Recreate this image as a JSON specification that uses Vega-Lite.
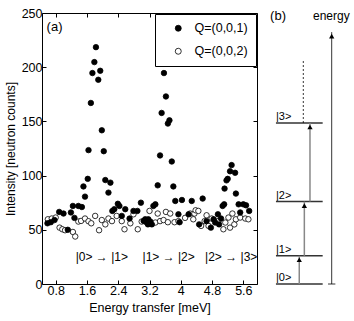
{
  "$schema": "https://vega.github.io/schema/vega-lite/v6.json",
  "padding": {"left": 3, "top": 6, "right": 0, "bottom": 0},
  "background": "white",
  "config": {
    "font": "Liberation Sans",
    "view": {"stroke": null},
    "axis": {"labelColor": "black", "titleColor": "black", "tickColor": "black", "domainColor": "black", "labelFont": "Liberation Sans", "titleFont": "Liberation Sans", "titleFontWeight": "normal", "grid": false}
  },
  "resolve": {"scale": {"fill": "independent"}, "legend": {"fill": "independent"}},
  "datasets": {
    "pts": [
      {"E": 0.60, "I": 59.7, "Q": "Q=(0,0,2)"},
      {"E": 0.70, "I": 60.4, "Q": "Q=(0,0,2)"},
      {"E": 0.80, "I": 61.3, "Q": "Q=(0,0,2)"},
      {"E": 0.90, "I": 52, "Q": "Q=(0,0,2)"},
      {"E": 0.97, "I": 50.5, "Q": "Q=(0,0,2)"},
      {"E": 1.04, "I": 49.6, "Q": "Q=(0,0,2)"},
      {"E": 1.24, "I": 48, "Q": "Q=(0,0,2)"},
      {"E": 1.30, "I": 43.8, "Q": "Q=(0,0,2)"},
      {"E": 1.38, "I": 57.6, "Q": "Q=(0,0,2)"},
      {"E": 1.45, "I": 58.2, "Q": "Q=(0,0,2)"},
      {"E": 1.55, "I": 60.4, "Q": "Q=(0,0,2)"},
      {"E": 1.64, "I": 57.9, "Q": "Q=(0,0,2)"},
      {"E": 1.71, "I": 56, "Q": "Q=(0,0,2)"},
      {"E": 1.81, "I": 62.8, "Q": "Q=(0,0,2)"},
      {"E": 1.91, "I": 49.6, "Q": "Q=(0,0,2)"},
      {"E": 1.98, "I": 59, "Q": "Q=(0,0,2)"},
      {"E": 2.07, "I": 55, "Q": "Q=(0,0,2)"},
      {"E": 2.15, "I": 60.4, "Q": "Q=(0,0,2)"},
      {"E": 2.24, "I": 58, "Q": "Q=(0,0,2)"},
      {"E": 2.36, "I": 62.8, "Q": "Q=(0,0,2)"},
      {"E": 2.49, "I": 58, "Q": "Q=(0,0,2)"},
      {"E": 2.56, "I": 50.5, "Q": "Q=(0,0,2)"},
      {"E": 2.71, "I": 56, "Q": "Q=(0,0,2)"},
      {"E": 2.79, "I": 64.3, "Q": "Q=(0,0,2)"},
      {"E": 2.90, "I": 50.5, "Q": "Q=(0,0,2)"},
      {"E": 3.00, "I": 57.6, "Q": "Q=(0,0,2)"},
      {"E": 3.20, "I": 67.4, "Q": "Q=(0,0,2)"},
      {"E": 3.35, "I": 56.7, "Q": "Q=(0,0,2)"},
      {"E": 3.41, "I": 65, "Q": "Q=(0,0,2)"},
      {"E": 3.47, "I": 58, "Q": "Q=(0,0,2)"},
      {"E": 3.56, "I": 59, "Q": "Q=(0,0,2)"},
      {"E": 3.62, "I": 66.5, "Q": "Q=(0,0,2)"},
      {"E": 3.67, "I": 57, "Q": "Q=(0,0,2)"},
      {"E": 3.73, "I": 65, "Q": "Q=(0,0,2)"},
      {"E": 3.84, "I": 57, "Q": "Q=(0,0,2)"},
      {"E": 3.94, "I": 58, "Q": "Q=(0,0,2)"},
      {"E": 4.11, "I": 61, "Q": "Q=(0,0,2)"},
      {"E": 4.24, "I": 65, "Q": "Q=(0,0,2)"},
      {"E": 4.32, "I": 59.7, "Q": "Q=(0,0,2)"},
      {"E": 4.35, "I": 65, "Q": "Q=(0,0,2)"},
      {"E": 4.38, "I": 68, "Q": "Q=(0,0,2)"},
      {"E": 4.45, "I": 67.4, "Q": "Q=(0,0,2)"},
      {"E": 4.52, "I": 53.6, "Q": "Q=(0,0,2)"},
      {"E": 4.61, "I": 58, "Q": "Q=(0,0,2)"},
      {"E": 4.66, "I": 63.4, "Q": "Q=(0,0,2)"},
      {"E": 4.71, "I": 53.6, "Q": "Q=(0,0,2)"},
      {"E": 4.79, "I": 60.4, "Q": "Q=(0,0,2)"},
      {"E": 4.96, "I": 58, "Q": "Q=(0,0,2)"},
      {"E": 5.09, "I": 50.5, "Q": "Q=(0,0,2)"},
      {"E": 5.14, "I": 56.7, "Q": "Q=(0,0,2)"},
      {"E": 5.22, "I": 61.3, "Q": "Q=(0,0,2)"},
      {"E": 5.26, "I": 52, "Q": "Q=(0,0,2)"},
      {"E": 5.32, "I": 65, "Q": "Q=(0,0,2)"},
      {"E": 5.37, "I": 55, "Q": "Q=(0,0,2)"},
      {"E": 5.41, "I": 59.7, "Q": "Q=(0,0,2)"},
      {"E": 5.52, "I": 61.3, "Q": "Q=(0,0,2)"},
      {"E": 5.65, "I": 60.4, "Q": "Q=(0,0,2)"},
      {"E": 5.73, "I": 59.7, "Q": "Q=(0,0,2)"},
      {"E": 0.59, "I": 56, "Q": "Q=(0,0,1)"},
      {"E": 0.675, "I": 57, "Q": "Q=(0,0,1)"},
      {"E": 0.77, "I": 59, "Q": "Q=(0,0,1)"},
      {"E": 0.89, "I": 66.5, "Q": "Q=(0,0,1)"},
      {"E": 1.0, "I": 65, "Q": "Q=(0,0,1)"},
      {"E": 1.11, "I": 50, "Q": "Q=(0,0,1)"},
      {"E": 1.19, "I": 66, "Q": "Q=(0,0,1)"},
      {"E": 1.24, "I": 72, "Q": "Q=(0,0,1)"},
      {"E": 1.28, "I": 61, "Q": "Q=(0,0,1)"},
      {"E": 1.38, "I": 72, "Q": "Q=(0,0,1)"},
      {"E": 1.47, "I": 71, "Q": "Q=(0,0,1)"},
      {"E": 1.51, "I": 90, "Q": "Q=(0,0,1)"},
      {"E": 1.55, "I": 80.6, "Q": "Q=(0,0,1)"},
      {"E": 1.62, "I": 97, "Q": "Q=(0,0,1)"},
      {"E": 1.64, "I": 123.5, "Q": "Q=(0,0,1)"},
      {"E": 1.70, "I": 167, "Q": "Q=(0,0,1)"},
      {"E": 1.74, "I": 194.6, "Q": "Q=(0,0,1)"},
      {"E": 1.79, "I": 204.7, "Q": "Q=(0,0,1)"},
      {"E": 1.83, "I": 218.5, "Q": "Q=(0,0,1)"},
      {"E": 1.89, "I": 188.4, "Q": "Q=(0,0,1)"},
      {"E": 1.94, "I": 196.7, "Q": "Q=(0,0,1)"},
      {"E": 1.98, "I": 141.8, "Q": "Q=(0,0,1)"},
      {"E": 2.03, "I": 122.5, "Q": "Q=(0,0,1)"},
      {"E": 2.07, "I": 95.9, "Q": "Q=(0,0,1)"},
      {"E": 2.15, "I": 84.3, "Q": "Q=(0,0,1)"},
      {"E": 2.20, "I": 93.5, "Q": "Q=(0,0,1)"},
      {"E": 2.25, "I": 67.4, "Q": "Q=(0,0,1)"},
      {"E": 2.30, "I": 69, "Q": "Q=(0,0,1)"},
      {"E": 2.39, "I": 74, "Q": "Q=(0,0,1)"},
      {"E": 2.43, "I": 72, "Q": "Q=(0,0,1)"},
      {"E": 2.49, "I": 62.8, "Q": "Q=(0,0,1)"},
      {"E": 2.58, "I": 69, "Q": "Q=(0,0,1)"},
      {"E": 2.69, "I": 60.4, "Q": "Q=(0,0,1)"},
      {"E": 2.79, "I": 67.4, "Q": "Q=(0,0,1)"},
      {"E": 2.89, "I": 67.4, "Q": "Q=(0,0,1)"},
      {"E": 2.98, "I": 75, "Q": "Q=(0,0,1)"},
      {"E": 3.05, "I": 58.2, "Q": "Q=(0,0,1)"},
      {"E": 3.09, "I": 59.7, "Q": "Q=(0,0,1)"},
      {"E": 3.13, "I": 56.7, "Q": "Q=(0,0,1)"},
      {"E": 3.16, "I": 55, "Q": "Q=(0,0,1)"},
      {"E": 3.17, "I": 59.7, "Q": "Q=(0,0,1)"},
      {"E": 3.22, "I": 57.6, "Q": "Q=(0,0,1)"},
      {"E": 3.26, "I": 55, "Q": "Q=(0,0,1)"},
      {"E": 3.30, "I": 72, "Q": "Q=(0,0,1)"},
      {"E": 3.35, "I": 73.5, "Q": "Q=(0,0,1)"},
      {"E": 3.41, "I": 91, "Q": "Q=(0,0,1)"},
      {"E": 3.47, "I": 118.6, "Q": "Q=(0,0,1)"},
      {"E": 3.51, "I": 157.8, "Q": "Q=(0,0,1)"},
      {"E": 3.57, "I": 194.6, "Q": "Q=(0,0,1)"},
      {"E": 3.62, "I": 173, "Q": "Q=(0,0,1)"},
      {"E": 3.67, "I": 148, "Q": "Q=(0,0,1)"},
      {"E": 3.71, "I": 151, "Q": "Q=(0,0,1)"},
      {"E": 3.77, "I": 113, "Q": "Q=(0,0,1)"},
      {"E": 3.81, "I": 90, "Q": "Q=(0,0,1)"},
      {"E": 3.86, "I": 76.6, "Q": "Q=(0,0,1)"},
      {"E": 3.94, "I": 64.3, "Q": "Q=(0,0,1)"},
      {"E": 3.97, "I": 57, "Q": "Q=(0,0,1)"},
      {"E": 4.03, "I": 77.5, "Q": "Q=(0,0,1)"},
      {"E": 4.20, "I": 64.3, "Q": "Q=(0,0,1)"},
      {"E": 4.28, "I": 76.6, "Q": "Q=(0,0,1)"},
      {"E": 4.47, "I": 55, "Q": "Q=(0,0,1)"},
      {"E": 4.56, "I": 78.8, "Q": "Q=(0,0,1)"},
      {"E": 4.66, "I": 58, "Q": "Q=(0,0,1)"},
      {"E": 4.77, "I": 52, "Q": "Q=(0,0,1)"},
      {"E": 4.84, "I": 59.7, "Q": "Q=(0,0,1)"},
      {"E": 4.88, "I": 56.7, "Q": "Q=(0,0,1)"},
      {"E": 4.95, "I": 64.3, "Q": "Q=(0,0,1)"},
      {"E": 4.98, "I": 55, "Q": "Q=(0,0,1)"},
      {"E": 5.03, "I": 60.4, "Q": "Q=(0,0,1)"},
      {"E": 5.07, "I": 72, "Q": "Q=(0,0,1)"},
      {"E": 5.11, "I": 73.5, "Q": "Q=(0,0,1)"},
      {"E": 5.12, "I": 88, "Q": "Q=(0,0,1)"},
      {"E": 5.17, "I": 95.6, "Q": "Q=(0,0,1)"},
      {"E": 5.20, "I": 97, "Q": "Q=(0,0,1)"},
      {"E": 5.26, "I": 104, "Q": "Q=(0,0,1)"},
      {"E": 5.30, "I": 109.7, "Q": "Q=(0,0,1)"},
      {"E": 5.39, "I": 102.6, "Q": "Q=(0,0,1)"},
      {"E": 5.41, "I": 83.4, "Q": "Q=(0,0,1)"},
      {"E": 5.48, "I": 73.5, "Q": "Q=(0,0,1)"},
      {"E": 5.52, "I": 66, "Q": "Q=(0,0,1)"},
      {"E": 5.60, "I": 73.5, "Q": "Q=(0,0,1)"},
      {"E": 5.67, "I": 72.6, "Q": "Q=(0,0,1)"},
      {"E": 5.75, "I": 67.4, "Q": "Q=(0,0,1)"}
    ],
    "ann": [
      {"E": 1.98, "I": 25, "t": "|0> → |1>", "s": 12},
      {"E": 3.69, "I": 25, "t": "|1> → |2>", "s": 12},
      {"E": 5.29, "I": 25, "t": "|2> → |3>", "s": 12},
      {"E": 0.77, "I": 237, "t": "(a)", "s": 13}
    ],
    "levels": [
      {"lvl": "|0>", "E": 0},
      {"lvl": "|1>", "E": 1.86},
      {"lvl": "|2>", "E": 5.43},
      {"lvl": "|3>", "E": 10.61}
    ],
    "trans": [
      {"x": 0.439, "from": 0, "to": 1.86},
      {"x": 0.493, "from": 1.86, "to": 5.43},
      {"x": 0.553, "from": 5.43, "to": 10.61}
    ],
    "labelsb": [
      {"x": 0.213, "y": 17.65, "t": "(b)", "s": 13, "a": "left"},
      {"x": 0.78, "y": 17.65, "t": "energy", "s": 12, "a": "center"}
    ]
  },
  "hconcat": [
    {
      "width": 215,
      "height": 271,
      "view": {"stroke": "black", "strokeWidth": 1},
      "layer": [
        {
          "data": {"name": "pts"},
          "mark": {"type": "point", "filled": true, "stroke": "black", "strokeWidth": 0.8, "size": 30, "opacity": 1},
          "encoding": {
            "x": {"field": "E", "type": "quantitative", "scale": {"domain": [0.45, 5.95], "nice": false, "zero": false},
              "axis": {"values": [0.8, 1.6, 2.4, 3.2, 4, 4.8, 5.6], "labelExpr": "datum.value == 4 ? '4' : format(datum.value, '.1f')", "title": "Energy transfer [meV]", "domain": false, "tickSize": -4, "labelPadding": 4, "labelFontSize": 12.5, "titleFontSize": 12.5, "titlePadding": 5}},
            "y": {"field": "I", "type": "quantitative", "scale": {"domain": [0, 250], "nice": false},
              "axis": {"values": [0, 50, 100, 150, 200, 250], "title": "Intensity [neutron counts]", "domain": false, "tickSize": -4, "labelPadding": 4, "labelFontSize": 12.5, "titleFontSize": 12, "titlePadding": 4}},
            "fill": {"field": "Q", "type": "nominal", "scale": {"domain": ["Q=(0,0,1)", "Q=(0,0,2)"], "range": ["black", "white"]},
              "legend": {"title": null, "orient": "top-right", "offset": 1, "padding": 8, "strokeColor": "black", "fillColor": "white", "symbolType": "circle", "symbolSize": 36, "symbolStrokeColor": "black", "symbolStrokeWidth": 0.8, "symbolOffset": 9, "labelOffset": 10, "rowPadding": 10, "labelFontSize": 12.5, "labelColor": "black", "labelFont": "Liberation Sans"}}
          }
        },
        {
          "data": {"name": "ann"},
          "mark": {"type": "text", "color": "black", "font": "Liberation Sans"},
          "encoding": {
            "x": {"field": "E", "type": "quantitative", "axis": {"orient": "top", "values": [0.8, 1.6, 2.4, 3.2, 4, 4.8, 5.6], "labels": false, "title": null, "domain": false, "tickSize": -4}},
            "y": {"field": "I", "type": "quantitative", "axis": {"orient": "right", "values": [0, 50, 100, 150, 200, 250], "labels": false, "title": null, "domain": false, "tickSize": -4}},
            "text": {"field": "t"},
            "size": {"field": "s", "type": "quantitative", "scale": null}
          }
        }
      ],
      "resolve": {"axis": {"x": "independent", "y": "independent"}}
    },
    {
      "width": 94,
      "height": 271,
      "layer": [
        {
          "data": {"name": "levels"},
          "mark": {"type": "rule", "color": "#333333", "strokeWidth": 1.5},
          "encoding": {
            "x": {"datum": 0.191, "type": "quantitative", "scale": {"domain": [0, 1], "nice": false}, "axis": null},
            "x2": {"datum": 0.688},
            "y": {"field": "E", "type": "quantitative", "scale": {"domain": [0, 17.86], "nice": false}, "axis": null}
          }
        },
        {
          "data": {"name": "levels"},
          "mark": {"type": "text", "align": "left", "baseline": "bottom", "dy": -1, "fontSize": 11, "color": "black"},
          "encoding": {
            "x": {"datum": 0.191, "type": "quantitative"},
            "y": {"field": "E", "type": "quantitative"},
            "text": {"field": "lvl"}
          }
        },
        {
          "data": {"name": "trans"},
          "mark": {"type": "rule", "color": "#888888", "strokeWidth": 1.5},
          "encoding": {
            "x": {"field": "x", "type": "quantitative"},
            "y": {"field": "from", "type": "quantitative"},
            "y2": {"field": "to"}
          }
        },
        {
          "data": {"name": "trans"},
          "mark": {"type": "point", "shape": "triangle-up", "filled": true, "color": "black", "size": 28, "yOffset": 4, "opacity": 1},
          "encoding": {
            "x": {"field": "x", "type": "quantitative"},
            "y": {"field": "to", "type": "quantitative"}
          }
        },
        {
          "data": {"values": [{"x": 0.482, "a": 10.61, "b": 14.8}]},
          "mark": {"type": "rule", "color": "black", "strokeWidth": 0.8, "strokeDash": [2, 2]},
          "encoding": {
            "x": {"field": "x", "type": "quantitative"},
            "y": {"field": "a", "type": "quantitative"},
            "y2": {"field": "b"}
          }
        },
        {
          "data": {"values": [{"x": 0.784, "a": 0, "b": 16.6}]},
          "mark": {"type": "rule", "color": "black", "strokeWidth": 0.8},
          "encoding": {
            "x": {"field": "x", "type": "quantitative"},
            "y": {"field": "a", "type": "quantitative"},
            "y2": {"field": "b"}
          }
        },
        {
          "data": {"values": [{"x": 0.784, "b": 16.6}]},
          "mark": {"type": "point", "shape": "triangle-up", "filled": true, "color": "black", "size": 28, "yOffset": 4, "opacity": 1},
          "encoding": {
            "x": {"field": "x", "type": "quantitative"},
            "y": {"field": "b", "type": "quantitative"}
          }
        },
        {
          "data": {"values": [{"a": 0.745, "b": 0.823, "y": 0}]},
          "mark": {"type": "rule", "color": "black", "strokeWidth": 0.8},
          "encoding": {
            "x": {"field": "a", "type": "quantitative"},
            "x2": {"field": "b"},
            "y": {"field": "y", "type": "quantitative"}
          }
        },
        {
          "data": {"name": "labelsb"},
          "mark": {"type": "text", "color": "black"},
          "encoding": {
            "x": {"field": "x", "type": "quantitative"},
            "y": {"field": "y", "type": "quantitative"},
            "text": {"field": "t"},
            "size": {"field": "s", "type": "quantitative", "scale": null},
            "align": {"field": "a", "type": "nominal", "scale": null}
          }
        }
      ]
    }
  ],
  "spacing": 0
}
